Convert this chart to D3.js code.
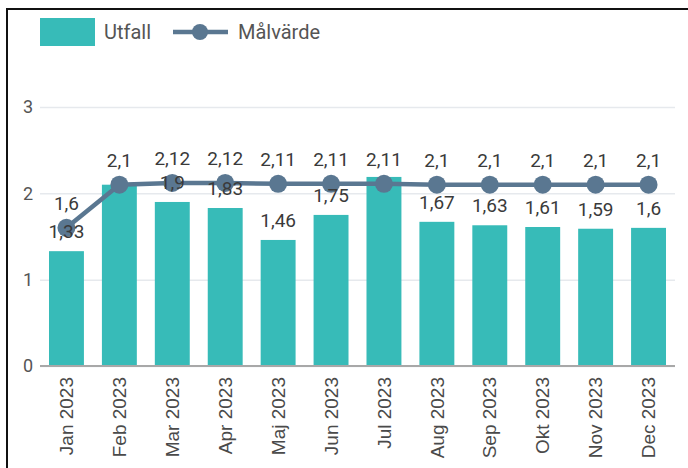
<!DOCTYPE html>
<html lang="sv">
<head>
    <meta charset="UTF-8">
    <title>Utfall och målvärde 2023</title>
    <script type="text/javascript" src="https://cdnjs.cloudflare.com/ajax/libs/d3/7.8.5/d3.min.js"></script>
    <style>
        body { margin: 0; background: #fff; }
        svg { display: block; }
    </style>
</head>
<body>
<svg id="chart" width="688" height="468"></svg>

<script type="text/javascript">
    const months = ["Jan 2023", "Feb 2023", "Mar 2023", "Apr 2023", "Maj 2023", "Jun 2023",
        "Jul 2023", "Aug 2023", "Sep 2023", "Okt 2023", "Nov 2023", "Dec 2023"];
    const utfall = [1.33, 2.1, 1.9, 1.83, 1.46, 1.75, 2.19, 1.67, 1.63, 1.61, 1.59, 1.6];
    const malvarde = [1.6, 2.1, 2.12, 2.12, 2.11, 2.11, 2.11, 2.1, 2.1, 2.1, 2.1, 2.1];
    const yTicks = [0, 1, 2, 3];

    const barColor = "#37bbb8";
    const lineColor = "#5a7791";
    const svFormat = d => String(d).replace(".", ",");

    const svg = d3.select("#chart");

    // frame, only left and top edges show in the picture
    svg.append("path")
        .attr("d", "M7,468V9H688")
        .attr("fill", "none")
        .attr("stroke", "#111")
        .attr("stroke-width", 2);

    const x = d3.scaleBand()
        .domain(months)
        .range([40, 675])
        .paddingInner(0.34)
        .paddingOuter(0.17);

    const y = d3.scaleLinear()
        .domain([0, 3])
        .range([366, 107]);

    const cx = i => x(months[i]) + x.bandwidth() / 2;

    // grid lines + y labels
    const yAxis = svg.append("g")
        .attr("transform", "translate(40,0)")
        .call(d3.axisLeft(y).tickValues(yTicks).tickSize(-635).tickPadding(7).tickFormat(d3.format("d")));
    yAxis.select(".domain").remove();
    yAxis.selectAll(".tick line")
        .attr("stroke", "#e6e9ed")
        .attr("stroke-width", 1.5);
    yAxis.selectAll(".tick text")
        .attr("fill", "#555")
        .style("font-family", "Roboto, sans-serif")
        .style("font-size", "18px");

    // bars
    svg.append("g")
        .selectAll("rect")
        .data(utfall)
        .enter().append("rect")
        .attr("x", (d, i) => x(months[i]))
        .attr("y", d => y(d))
        .attr("width", x.bandwidth())
        .attr("height", d => y(0) - y(d))
        .attr("fill", barColor);

    // zero line on top of bars
    svg.append("line")
        .attr("x1", 40).attr("x2", 675)
        .attr("y1", y(0)).attr("y2", y(0))
        .attr("stroke", "#a8a8a8")
        .attr("stroke-width", 2);

    // x labels
    const xAxis = svg.append("g")
        .attr("transform", "translate(0," + y(0) + ")")
        .call(d3.axisBottom(x).tickSize(0).tickPadding(0));
    xAxis.select(".domain").remove();
    xAxis.selectAll(".tick text")
        .attr("transform", "rotate(-90)")
        .attr("x", -11)
        .attr("y", 0)
        .attr("dy", "0.35em")
        .attr("text-anchor", "end")
        .attr("fill", "#4a4a4a")
        .style("font-family", "'Liberation Sans', Arial, sans-serif")
        .style("font-size", "19px");

    // target line
    const line = d3.line().x((d, i) => cx(i)).y(d => y(d));
    svg.append("path")
        .datum(malvarde)
        .attr("d", line)
        .attr("fill", "none")
        .attr("stroke", lineColor)
        .attr("stroke-width", 4.5);
    svg.append("g")
        .selectAll("circle")
        .data(malvarde)
        .enter().append("circle")
        .attr("cx", (d, i) => cx(i))
        .attr("cy", d => y(d))
        .attr("r", 9)
        .attr("fill", lineColor);

    // value labels (bar labels hidden where they would collide with the target label)
    const labelStyle = sel => sel
        .attr("text-anchor", "middle")
        .attr("fill", "#3a3a3a")
        .style("font-family", "Roboto, sans-serif")
        .style("font-size", "19px");

    const shownBars = d3.range(utfall.length).filter(i => utfall[i] < malvarde[i] - 0.05);
    svg.append("g")
        .selectAll("text")
        .data(shownBars)
        .enter().append("text")
        .attr("x", i => cx(i))
        .attr("y", i => y(utfall[i]) - 13)
        .text(i => svFormat(utfall[i]))
        .call(labelStyle);

    svg.append("g")
        .selectAll("text")
        .data(malvarde)
        .enter().append("text")
        .attr("x", (d, i) => cx(i))
        .attr("y", d => y(d) - 18)
        .text(svFormat)
        .call(labelStyle);

    // legend
    const legend = svg.append("g");
    legend.append("rect")
        .attr("x", 40).attr("y", 18)
        .attr("width", 55).attr("height", 28)
        .attr("fill", barColor);
    legend.append("text")
        .attr("x", 104).attr("y", 39)
        .text("Utfall");
    legend.append("line")
        .attr("x1", 173).attr("x2", 228)
        .attr("y1", 32).attr("y2", 32)
        .attr("stroke", lineColor)
        .attr("stroke-width", 4.5);
    legend.append("circle")
        .attr("cx", 200).attr("cy", 32).attr("r", 8)
        .attr("fill", lineColor);
    legend.append("text")
        .attr("x", 238).attr("y", 39)
        .text("Målvärde");
    legend.selectAll("text")
        .attr("fill", "#555")
        .style("font-family", "Roboto, sans-serif")
        .style("font-size", "20px");
</script>

</body>
</html>
